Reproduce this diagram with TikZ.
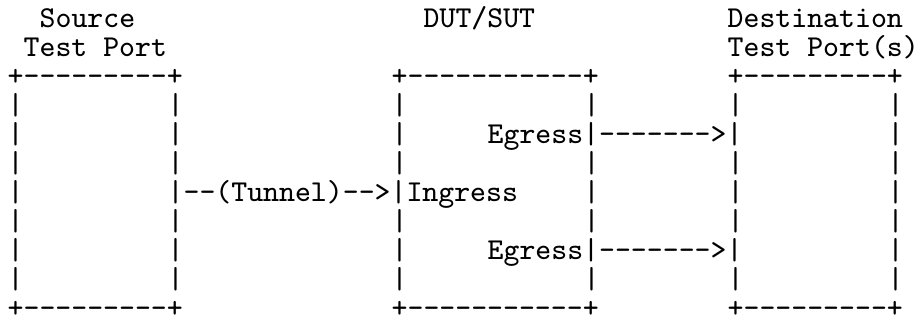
\documentclass[tikz,border=0pt]{standalone}
\usepackage{fontspec}
\begin{document}
\begin{tikzpicture}[x=4.8pt,y=-8.7pt,every node/.style={inner sep=0pt,anchor=base west,font=\ttfamily\fontsize{9.1}{11}\selectfont}]
    \useasboundingbox (-2.1pt,8.2pt) rectangle ++(275.7pt,-96pt);
    \node (srctitle) at (2,0) {Source}; \node (duttitle) at (26,0) {DUT/SUT}; \node (dsttitle) at (45,0) {Destination};
    \node (srcport) at (1,1) {Test Port}; \node (dstport) at (45,1) {Test Port(s)};
    \foreach \r/\p in {2/top,10/bot}{
        \node (src\p) at (0,\r) {+---------+};
        \node (dut\p) at (24,\r) {+-----------+};
        \node (dst\p) at (45,\r) {+---------+};
    }
    \foreach \r in {3,5,7,9}\foreach \c in {0,10,24,36,45,55}\node (bar\c-\r) at (\c,\r) {|};
    \foreach \r/\p in {4/a,8/b}{
        \foreach \c in {0,10,24,55}\node (bar\c-\r) at (\c,\r) {|};
        \node (egress\p) at (30,\r) {Egress|------->|};
    }
    \foreach \c in {0,36,45,55}\node (bar\c-6) at (\c,6) {|};
    \node (tunnel) at (10,6) {|--(Tunnel)-->|Ingress};
\end{tikzpicture}
\end{document}
